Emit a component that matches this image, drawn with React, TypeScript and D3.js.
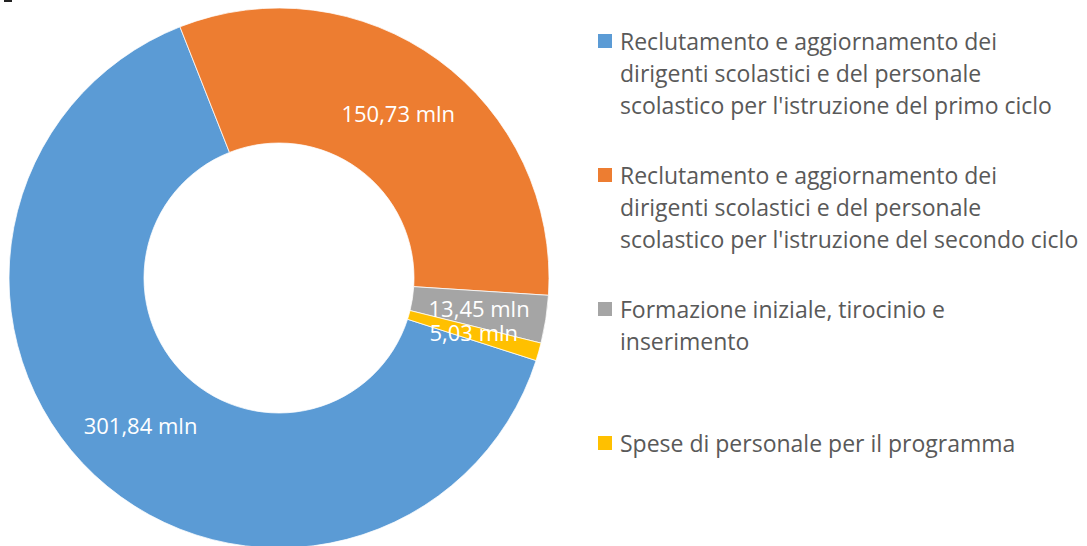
import React from "react";
import * as d3 from "d3";

const categories: string[] = [
  "Reclutamento e aggiornamento dei dirigenti scolastici e del personale scolastico per l'istruzione del primo ciclo",
  "Reclutamento e aggiornamento dei dirigenti scolastici e del personale scolastico per l'istruzione del secondo ciclo",
  "Formazione iniziale, tirocinio e inserimento",
  "Spese di personale per il programma",
];
const legendLines: string[][] = [
  ["Reclutamento e aggiornamento dei", "dirigenti scolastici e del personale", "scolastico per l'istruzione del primo ciclo"],
  ["Reclutamento e aggiornamento dei", "dirigenti scolastici e del personale", "scolastico per l'istruzione del secondo ciclo"],
  ["Formazione iniziale, tirocinio e", "inserimento"],
  ["Spese di personale per il programma"],
];
const values: number[] = [301.84, 150.73, 13.45, 5.03];
const labels: string[] = ["301,84 mln", "150,73 mln", "13,45 mln", "5,03 mln"];
const colors: string[] = ["#5B9BD5", "#ED7D31", "#A5A5A5", "#FFC000"];

const W = 1087;
const H = 546;
const cx = 279;
const cy = 278;
const outerR = 270;
const innerR = 135;
const firstSliceAngle = 107.8; // degrees
const legendTops = [50, 184, 318, 452];
const lineH = 32;
const FONT = "Open Sans, sans-serif";

export default function App() {
  const start = (firstSliceAngle * Math.PI) / 180;
  const pie = d3
    .pie<number>()
    .sort(null)
    .value((d) => d)
    .startAngle(start)
    .endAngle(start + 2 * Math.PI);
  const arcs = pie(values);
  const arc = d3.arc<d3.PieArcDatum<number>>().innerRadius(innerR).outerRadius(outerR);

  return (
    <svg
      width={W}
      height={H}
      style={{ position: "absolute", left: 0, top: 0, background: "#fff" }}
      fontFamily={FONT}
    >
      <rect x={4} y={0} width={8} height={2} fill="#222" />
      <g transform={`translate(${cx},${cy})`}>
        {arcs.map((a, i) => (
          <path key={i} d={arc(a) || ""} fill={colors[i]} stroke="#fff" strokeWidth={0.75} />
        ))}
        {arcs.map((a, i) => {
          const [x, y] = arc.centroid(a);
          return (
            <text
              key={"l" + i}
              x={x}
              y={y}
              dy="0.36em"
              textAnchor="middle"
              fill="#fff"
              fontSize={22}
            >
              {labels[i]}
            </text>
          );
        })}
      </g>
      <g>
        {legendLines.map((lines, i) => (
          <g key={"lg" + i}>
            <title>{categories[i]}</title>
            <rect x={598} y={legendTops[i] - 16} width={14} height={14} fill={colors[i]} />
            {lines.map((ln, j) => (
              <text key={j} x={620} y={legendTops[i] + j * lineH} fill="#595959" fontSize={23}>
                {ln}
              </text>
            ))}
          </g>
        ))}
      </g>
    </svg>
  );
}
